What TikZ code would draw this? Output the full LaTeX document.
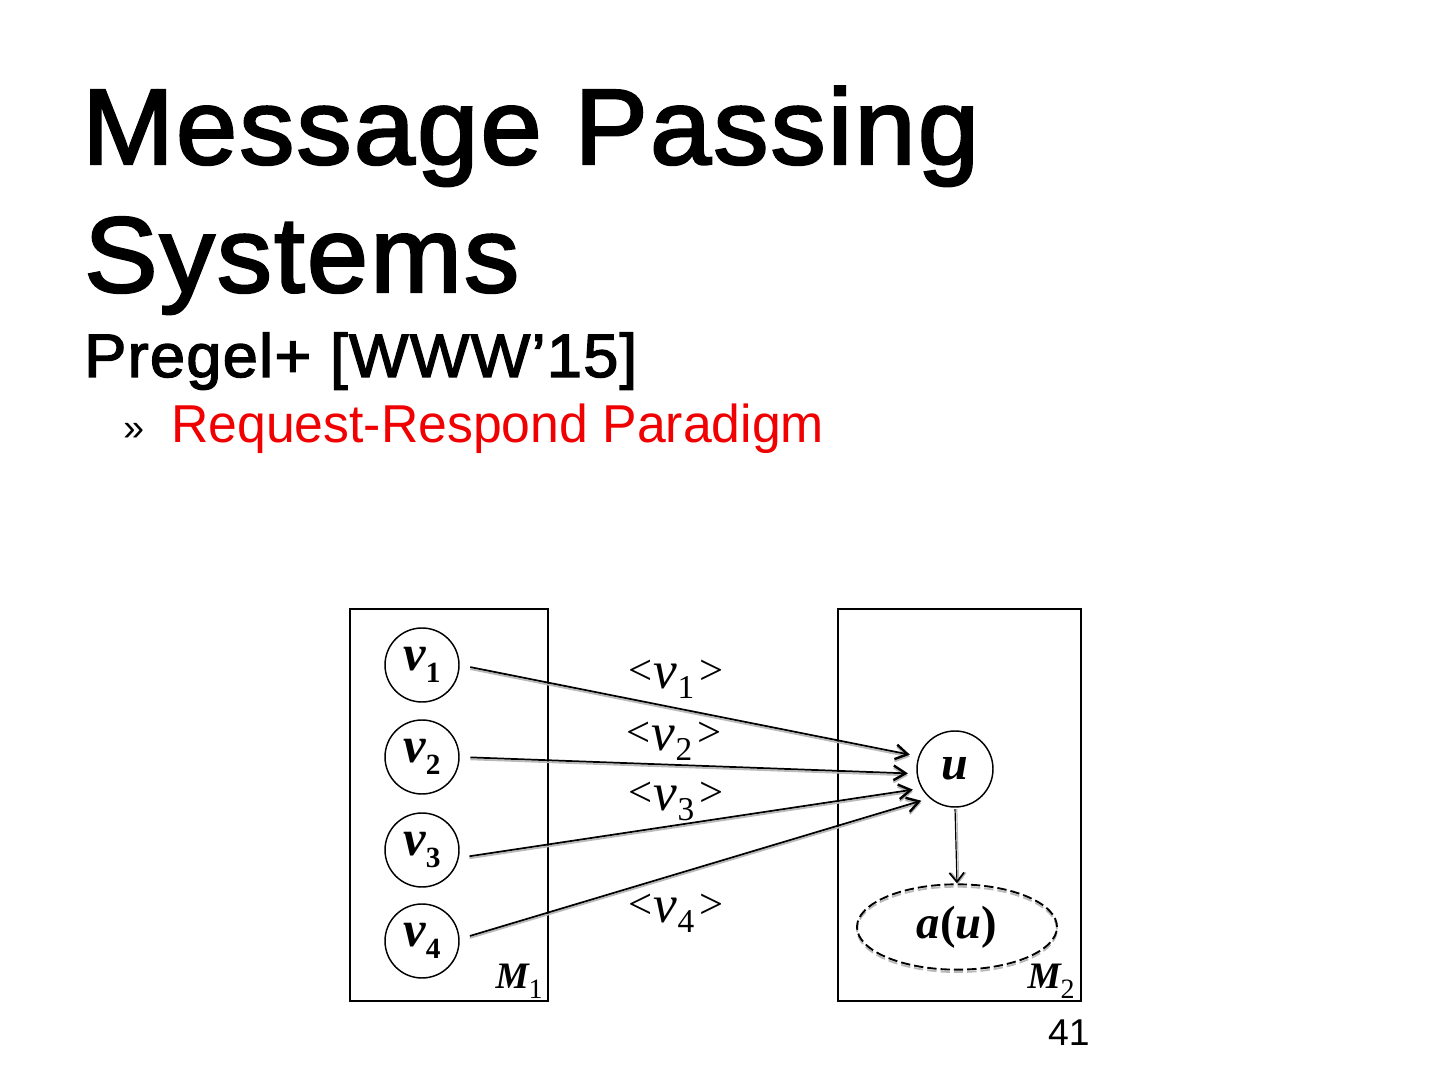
\documentclass[tikz,border=0pt]{standalone}
\usepackage{fontspec}
\setmainfont{Liberation Serif}
\newfontfamily\hdfont{Liberation Sans}
\newfontfamily\hdmed[FakeBold=2.2,LetterSpace=2]{Liberation Sans}
\usetikzlibrary{arrows.meta,shapes.geometric}
\definecolor{hdred}{RGB}{240,0,0}
\newcommand\vlab[1]{{\fontsize{38}{38}\selectfont\bfseries\itshape v}\raisebox{-9pt}{\fontsize{22}{22}\selectfont\bfseries #1}}
\newcommand\msglab[1]{\raisebox{2.5pt}{\fontsize{32}{32}\selectfont<}\kern1pt{\fontsize{40}{40}\selectfont\itshape v}\raisebox{-7.5pt}{\fontsize{25}{25}\selectfont #1}\kern4pt\raisebox{2.5pt}{\fontsize{32}{32}\selectfont>}}
\newcommand\mlab[1]{{\fontsize{28}{28}\selectfont\bfseries\itshape M}\raisebox{-7.5pt}{\fontsize{21}{21}\selectfont #1}}
\begin{document}
\begin{tikzpicture}[x=0.75pt,y=-0.75pt,
  machine/.style={draw, line width=1.3pt, inner sep=0pt},
  vert/.style={circle, draw, line width=1.1pt, minimum size=55.5pt, inner sep=0pt},
  msg/.style={line width=1.3pt, -{Straight Barb[length=9pt,width=11pt,line width=1.8pt]}, shorten <=8pt, shorten >=6.5pt},
  msgshadow/.style={msg, draw=gray!55, transform canvas={yshift=-1.5pt}},
  down/.style={line width=0.9pt, -{Straight Barb[length=7pt,width=11pt,line width=1.3pt]}, shorten <=1pt},
  titletxt/.style={anchor=base west, inner sep=0pt}]
\useasboundingbox (0,0) rectangle (1440,1080);
\fill[white] (0,0) rectangle (1440,1080);

% titles
\node[titletxt] (t1) at (82,164) {\hdmed\fontsize{80.5}{80.5}\selectfont\scalebox{1.025}[1]{Message Passing}};
\node[titletxt] (t2) at (84,292) {\hdmed\fontsize{80.5}{80.5}\selectfont\scalebox{1.025}[1]{Systems}};
\node[titletxt] (t3) at (84,377) {\hdmed\fontsize{46}{46}\selectfont\scalebox{1.03}[1]{Pregel+ [WWW’15]}};
\node[titletxt] (bul) at (123,441) {\hdfont\fontsize{28}{28}\selectfont »};
\node[titletxt, text=hdred] (t4) at (171,443) {\hdfont\fontsize{40}{40}\selectfont\scalebox{0.97}[1]{Request-Respond Paradigm}};

% machines
\node[machine, anchor=north west, minimum width=148.5pt, minimum height=294pt] (M1) at (349,608) {};
\node[machine, anchor=north west, minimum width=182.25pt, minimum height=294pt] (M2) at (837,608) {};
\node[anchor=base east, inner sep=0pt] (m1l) at (543,988) {\mlab{1}};
\node[anchor=base east, inner sep=0pt] (m2l) at (1075,988) {\mlab{2}};

% vertices
\node[vert] (v1) at (422,665) {\vlab{1}};
\node[vert] (v2) at (422,757) {\vlab{2}};
\node[vert] (v3) at (422,850) {\vlab{3}};
\node[vert] (v4) at (422,941) {\vlab{4}};
\node[vert, minimum size=57pt] (u) at (955,769) {\fontsize{36}{36}\selectfont\bfseries\itshape u};
\node[ellipse, draw, dash pattern=on 7pt off 3pt, line width=1.4pt, minimum width=150pt, minimum height=64pt, inner sep=0pt,
  preaction={draw=gray!55, dash pattern=on 7pt off 3pt, line width=1.4pt, transform canvas={yshift=-1.8pt}}] (au) at (957,927) {\fontsize{35}{35}\selectfont\bfseries\itshape a\upshape(\itshape u\upshape)};

% messages
\draw[msgshadow] (v1.east) -- (u.161);
\draw[msg] (v1.east) -- (u.161);
\draw[msgshadow] (v2.east) -- (u.187);
\draw[msg] (v2.east) -- (u.187);
\draw[msgshadow] (v3.348) -- (u.210);
\draw[msg] (v3.348) -- (u.210);
\draw[msgshadow] (v4.3) -- (u.229);
\draw[msg] (v4.3) -- (u.229);
\draw[down, draw=gray!55, transform canvas={xshift=1.3pt}] (u.south) -- (au.north);
\draw[down] (u.south) -- (au.north);

% labels
\node[anchor=base] (l1) at (676,688) {\msglab{1}};
\node[anchor=base] (l2) at (674,750) {\msglab{2}};
\node[anchor=base] (l3) at (676,810) {\msglab{3}};
\node[anchor=base] (l4) at (676,922) {\msglab{4}};

\node[anchor=base east, inner sep=0pt] (pg) at (1090,1045) {\hdfont\fontsize{28}{28}\selectfont 41};
\end{tikzpicture}
\end{document}
